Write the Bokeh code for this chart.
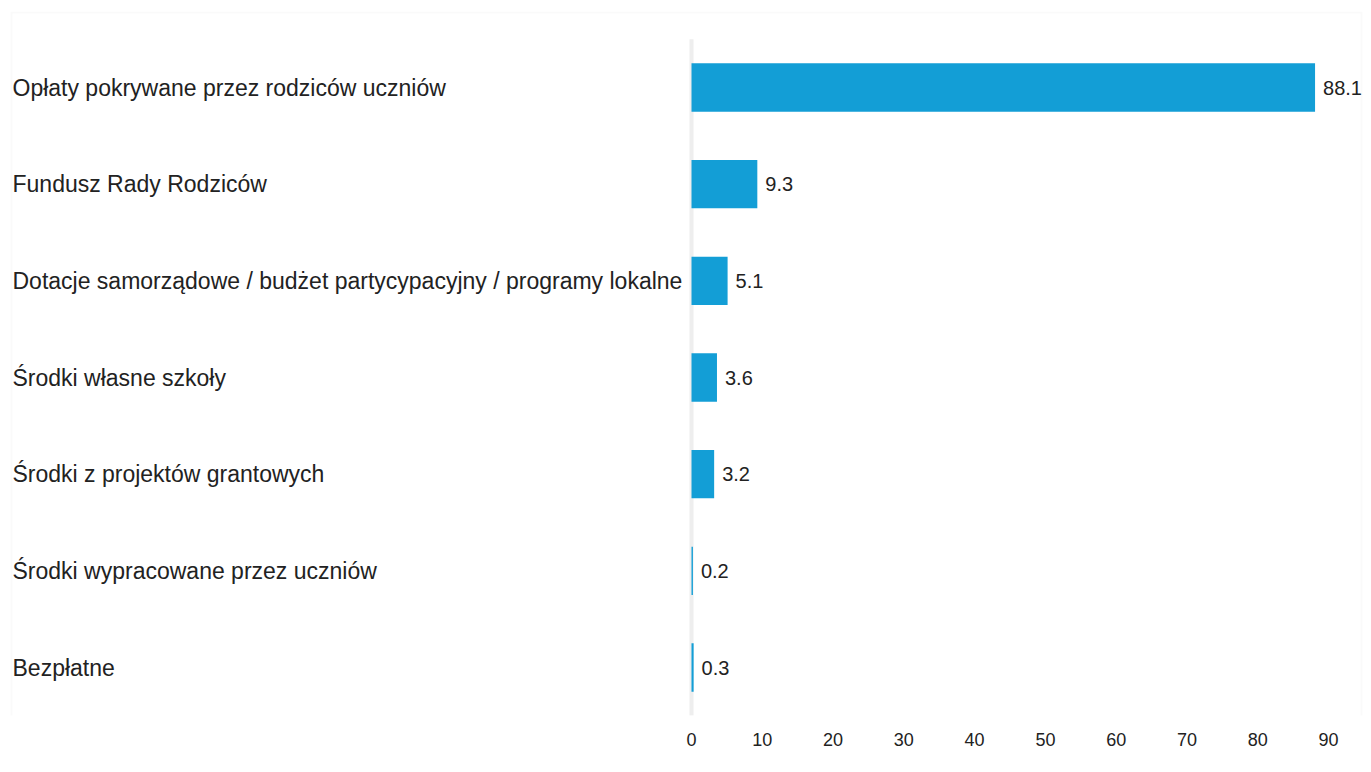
from bokeh.plotting import figure
from bokeh.models import Range1d, BoxAnnotation, FixedTicker
from bokeh.core.properties import value
from bokeh.embed import file_html
from bokeh.resources import INLINE

categories = [
    "Opłaty pokrywane przez rodziców uczniów",
    "Fundusz Rady Rodziców",
    "Dotacje samorządowe / budżet partycypacyjny / programy lokalne",
    "Środki własne szkoły",
    "Środki z projektów grantowych",
    "Środki wypracowane przez uczniów",
    "Bezpłatne",
]
values = [88.1, 9.3, 5.1, 3.6, 3.2, 0.2, 0.3]
value_labels = ["88.1", "9.3", "5.1", "3.6", "3.2", "0.2", "0.3"]
x_ticks = [0, 10, 20, 30, 40, 50, 60, 70, 80, 90]

# ---- layout (pixels) ----
W, H = 1363, 764
zero_px = 691               # canvas x of value 0
px_per_unit = 637 / 90      # pixels per unit of value
frame_top, frame_bottom = 11, 715
first_center, band = 87, 96.67

x_start = -zero_px / px_per_unit
x_end = (W - zero_px) / px_per_unit
label_x = (12 - zero_px) / px_per_unit

n = len(categories)
rows = list(range(n))  # row index, 0 = top
y_top = -(first_center - frame_top) / band
y_bottom = (n - 1) + (frame_bottom - (first_center + (n - 1) * band)) / band

p = figure(
    width=W, height=H,
    x_range=Range1d(x_start, x_end),
    y_range=Range1d(y_bottom, y_top),
    output_backend="svg", toolbar_location=None,
    y_axis_location=None,
    min_border_left=0, min_border_right=0,
    min_border_top=frame_top, min_border_bottom=H - frame_bottom,
)
p.outline_line_color = None
p.xgrid.visible = False
p.ygrid.visible = False
p.background_fill_color = "white"
p.border_fill_color = "white"

# light outer box
frame_box = BoxAnnotation(left=11, right=1361, top=12, bottom=2000,
                          left_units="canvas", right_units="canvas",
                          top_units="canvas", bottom_units="canvas",
                          fill_alpha=0, line_color="#eeeeee", line_width=2,
                          level="underlay")
p.add_layout(frame_box)

# zero baseline
p.segment(x0=[0], y0=[-0.5], x1=[0], y1=[n - 0.5],
          line_color="#eeeeee", line_width=4)

p.hbar(y=rows, left=0, right=values, height=0.5,
       fill_color="#139ed6", line_color=None)

p.text(x=[label_x] * n, y=rows, text=categories,
       text_align="left", text_baseline="middle",
       text_font=value("Liberation Sans"), text_font_size="23px",
       text_color="#222222")

p.text(x=values, y=rows, text=value_labels, x_offset=8,
       text_align="left", text_baseline="middle",
       text_font=value("Liberation Sans"), text_font_size="20px",
       text_color="#222222")

ax = p.xaxis[0]
ax.ticker = FixedTicker(ticks=x_ticks)
ax.axis_line_color = None
ax.major_tick_line_color = None
ax.minor_tick_line_color = None
ax.major_tick_out = 0
ax.major_tick_in = 0
ax.major_label_standoff = 17
ax.major_label_text_font = "Liberation Sans"
ax.major_label_text_font_size = "18px"
ax.major_label_text_color = "#222222"

open("out.html", "w").write(file_html(p, INLINE))
